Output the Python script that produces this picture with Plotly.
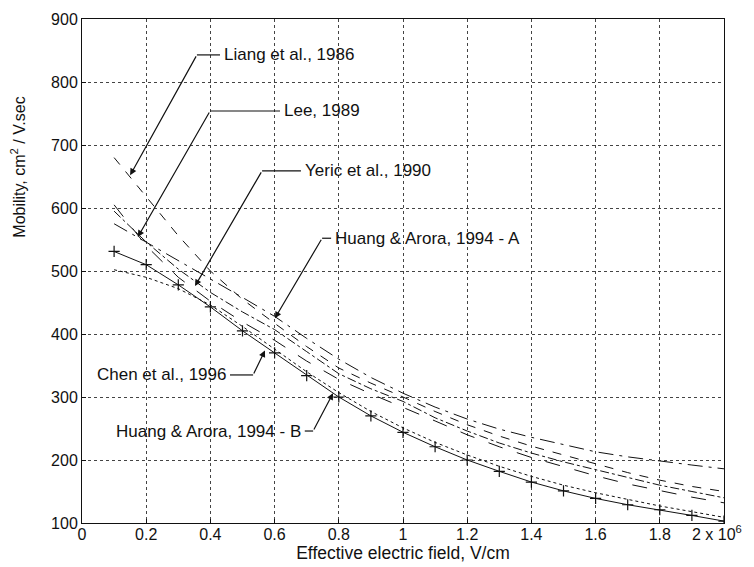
import plotly.graph_objects as go

# Effective electric field (x 10^6 V/cm)
field = [0.1, 0.2, 0.3, 0.4, 0.5, 0.6, 0.7, 0.8, 0.9, 1.0,
         1.1, 1.2, 1.3, 1.4, 1.5, 1.6, 1.7, 1.8, 1.9, 2.0]

liang_1986 = [680, 618, 556, 500, 455, 417, 380, 346, 322, 300,
              277, 256, 238, 222, 208, 194, 180, 168, 158, 150]
lee_1989 = [605, 540, 490, 452, 419, 390, 357, 328, 305, 284,
            262, 240, 221, 204, 189, 175, 162, 151, 141, 132]
yeric_1990 = [595, 546, 503, 466, 435, 407, 372, 337, 313, 293,
              267, 246, 227, 211, 197, 185, 172, 160, 150, 140]
huang_a_1994 = [575, 546, 517, 488, 458, 428, 393, 360, 331, 306,
                284, 265, 249, 236, 224, 213, 205, 198, 192, 186]
chen_1996 = [502, 490, 472, 446, 412, 376, 340, 307, 277, 251,
             228, 208, 190, 174, 160, 148, 137, 127, 118, 109]
huang_b_1994 = [531, 510, 478, 443, 405, 370, 334, 300, 270, 244,
                221, 200, 182, 165, 151, 139, 129, 121, 112, 103]

x_ticks = [0, 0.2, 0.4, 0.6, 0.8, 1.0, 1.2, 1.4, 1.6, 1.8, 2.0]
x_tick_text = ["0", "0.2", "0.4", "0.6", "0.8", "1", "1.2", "1.4", "1.6", "1.8", ""]
last_tick_text = "2 x 10<sup>6</sup>"
y_ticks = [100, 200, 300, 400, 500, 600, 700, 800, 900]

FONT = "Liberation Sans, Arial, sans-serif"
INK = "#111111"

fig = go.Figure()

series = [
    (liang_1986, "dash", None),
    (lee_1989, "longdash", None),
    (yeric_1990, "dashdot", None),
    (huang_a_1994, "longdashdot", None),
    (chen_1996, "dot", None),
    (huang_b_1994, "solid", "cross-thin"),
]
for vals, dash, sym in series:
    fig.add_trace(go.Scatter(
        x=field, y=vals,
        mode="lines+markers" if sym else "lines",
        line=dict(color=INK, width=1, dash=dash),
        marker=dict(symbol=sym, size=8, line=dict(color=INK, width=1.2)) if sym else None,
        showlegend=False,
    ))

# labels: (text, text x, text y, anchor, elbow x, tip x, tip y)
labels = [
    ("Liang et al., 1986", 0.436, 843, "left", 0.358, 0.150, 652),
    ("Lee, 1989", 0.623, 754, "left", 0.399, 0.174, 554),
    ("Yeric et al., 1990", 0.688, 659, "left", 0.561, 0.352, 476),
    ("Huang &amp; Arora, 1994 - A", 0.782, 552, "left", 0.748, 0.601, 425),
    ("Chen et al., 1996", 0.455, 335, "right", 0.533, 0.570, 374),
    ("Huang &amp; Arora, 1994 - B", 0.688, 246, "right", 0.720, 0.782, 306),
]
for text, tx, ty, anchor, ex, hx, hy in labels:
    fig.add_annotation(x=tx, y=ty, text=text, showarrow=False,
                       xanchor=anchor, yanchor="middle",
                       font=dict(family=FONT, size=17, color=INK))
    gap = -0.006 if anchor == "left" else 0.006
    fig.add_shape(type="line", x0=tx + gap, x1=ex, y0=ty, y1=ty,
                  xref="x", yref="y", line=dict(color=INK, width=1.2))
    fig.add_annotation(x=hx, y=hy, ax=ex, ay=ty, axref="x", ayref="y",
                       xref="x", yref="y", text="", showarrow=True,
                       arrowhead=2, arrowsize=1.1, arrowwidth=1.2,
                       arrowcolor=INK, standoff=0)

# y-axis title, drawn in the upper part of the left margin as in the reference
fig.add_annotation(xref="paper", x=0, xshift=-64, yref="y", y=664,
                   text="Mobility, cm<sup>2</sup> / V.sec", textangle=-90,
                   showarrow=False, xanchor="center", yanchor="middle",
                   font=dict(family=FONT, size=16, color=INK))

# last x tick label with its exponent, kept inside the page
fig.add_annotation(xref="paper", x=1, xshift=20, yref="paper", y=0, yshift=2,
                   text=last_tick_text, showarrow=False,
                   xanchor="right", yanchor="top",
                   font=dict(family=FONT, size=16, color=INK))

axis_common = dict(
    showline=True, linecolor=INK, linewidth=1, mirror=True,
    showgrid=True, gridcolor="#444444", griddash="dot", gridwidth=1,
    ticks="inside", ticklen=4, tickcolor=INK,
    tickfont=dict(family=FONT, size=16, color=INK),
    zeroline=False,
)

fig.update_xaxes(range=[0, 2], tickvals=x_ticks, ticktext=x_tick_text,
                 ticklabelstandoff=-3,
                 title=dict(text="Effective electric field, V/cm",
                            font=dict(family=FONT, size=17.5, color=INK), standoff=3),
                 **axis_common)
fig.update_yaxes(range=[100, 900], tickvals=y_ticks, **axis_common)

# the page body has an 8px margin, so the figure is sized to fit inside it
fig.update_layout(
    width=746, height=559,
    margin=dict(l=74, r=30, t=11, b=44, autoexpand=False),
    paper_bgcolor="white", plot_bgcolor="white",
    font=dict(family=FONT, size=16, color=INK),
)

fig.write_html("out.html")
